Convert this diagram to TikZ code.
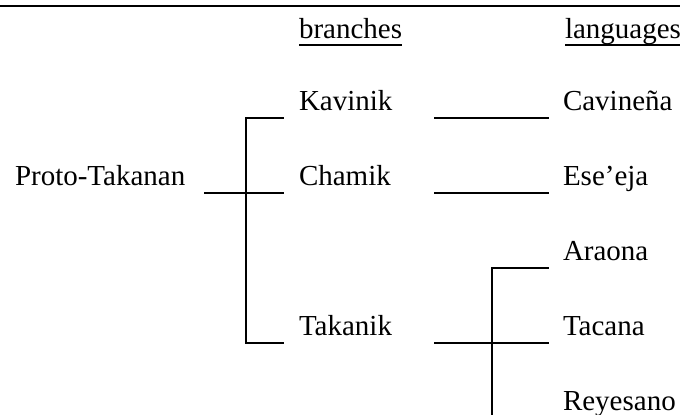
\documentclass[tikz,border=0pt]{standalone}
\usepackage{fontspec}
\setmainfont{Liberation Serif}
\usetikzlibrary{calc}

\tikzset{
  lbl/.style={anchor=base west, inner sep=0pt, outer sep=0pt,
    font=\fontsize{14.5}{17}\selectfont},
  conn/.style={line width=1pt, line cap=rect},
  uline/.style={line width=1pt}
}

\begin{document}
\begin{tikzpicture}[x=0.5pt, y=-0.5pt]
  \useasboundingbox (0,0) rectangle (680,414);

  % rule above the tree
  \draw[line width=1pt] (0,6) -- (680,6);

  % column headings
  \node[lbl] (hbr) at (299,38) {branches};
  \node[lbl] (hla) at (565,38) {languages};
  \draw[uline] ($(hbr.base west)+(0,7)$) -- ($(hbr.base east)+(0,7)$);
  \draw[uline] ($(hla.base west)+(0,7)$) -- ($(hla.base east)+(0,7)$);

  % root
  \node[lbl] (proto) at (15,185) {Proto-Takanan};

  % branches
  \node[lbl] (kav) at (299,110) {Kavinik};
  \node[lbl] (cham) at (299,185) {Chamik};
  \node[lbl] (tak) at (299,335) {Takanik};

  % languages
  \node[lbl] (cav) at (563,110) {Cavineña};
  \node[lbl] (ese) at (563,185) {Ese’eja};
  \node[lbl] (ara) at (563,260) {Araona};
  \node[lbl] (tac) at (563,335) {Tacana};
  \node[lbl] (rey) at (563,410) {Reyesano};

  % root to branches
  \draw[conn] ($(proto.base east)+(20,8)$) -- ($(cham.base west)+(-16,8)$);
  \draw[conn] ($(kav.base west)+(-16,8)$) -- ++(-37,0) |- ($(tak.base west)+(-16,8)$);

  % branches to languages
  \draw[conn] ($(cav.base west)+(-128,8)$) -- ($(cav.base west)+(-15,8)$);
  \draw[conn] ($(ese.base west)+(-128,8)$) -- ($(ese.base west)+(-15,8)$);
  \draw[conn] ($(tac.base west)+(-128,8)$) -- ($(tac.base west)+(-15,8)$);
  \draw[conn] ($(ara.base west)+(-15,8)$) -| ($(rey.base west)+(-71,30)$);
\end{tikzpicture}
\end{document}
